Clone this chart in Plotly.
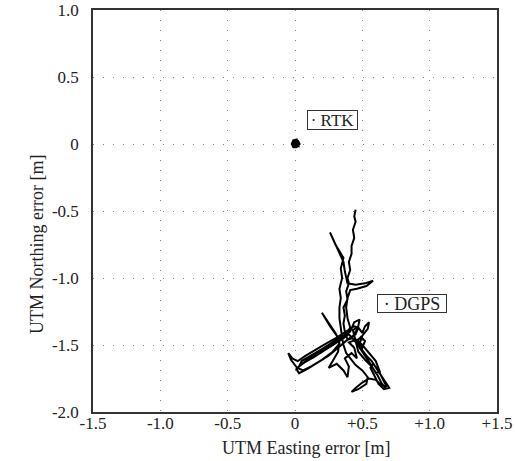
import plotly.graph_objects as go

# DGPS error trajectory (metres)
dgps_east = [
    0.45, 0.44, 0.45, 0.43, 0.44, 0.42, 0.42, 0.40, 0.41, 0.39, 0.40, 0.38, 0.39, 0.36, 0.37, 0.36, 0.37, 0.39,
    0.42, 0.45, 0.47, 0.50, 0.52, 0.55, 0.54, 0.50, 0.48,
    0.50, 0.53, 0.57, 0.61, 0.65, 0.68, 0.70, 0.66, 0.62, 0.59, 0.56, 0.58, 0.62, 0.65, 0.68, 0.64, 0.60, 0.55,
    0.50, 0.45, 0.42, 0.47, 0.53, 0.54, 0.50, 0.45, 0.41, 0.38, 0.36,
    0.35, 0.34, 0.33, 0.33, 0.34, 0.33, 0.35, 0.34, 0.36,
    0.30, 0.26, 0.29, 0.33, 0.36, 0.37,
    0.39, 0.45, 0.52, 0.58, 0.53, 0.46, 0.41,
    0.39, 0.38, 0.39, 0.41, 0.38, 0.33,
    0.26, 0.19, 0.11, 0.04, 0.01, 0.03, 0.09, 0.17, 0.25, 0.32, 0.39, 0.45, 0.47, 0.44, 0.38, 0.30, 0.23, 0.16,
    0.08, 0.02, -0.02, -0.05, -0.03, 0.015, 0.06,
    0.12, 0.20, 0.28, 0.33, 0.31, 0.26, 0.20, 0.24, 0.30, 0.33,
    0.32, 0.28, 0.25, 0.31, 0.36, 0.39, 0.40, 0.37, 0.42, 0.46, 0.44, 0.40,
    0.46, 0.50, 0.55, 0.60, 0.63, 0.60,
    0.56, 0.52, 0.48, 0.46, 0.49, 0.52, 0.50, 0.47, 0.43, 0.40, 0.36, 0.30, 0.22, 0.14, 0.07, 0.03,
    0.05, 0.12, 0.20, 0.28, 0.35, 0.41, 0.44, 0.48, 0.47, 0.43,
    0.47, 0.52, 0.57, 0.61, 0.64, 0.67,
]
dgps_north = [
    -0.49, -0.54, -0.58, -0.64, -0.70, -0.76, -0.82, -0.88, -0.94, -1.00, -1.04, -1.10, -1.16, -1.22, -1.28, -1.34, -1.40, -1.46,
    -1.45, -1.40, -1.37, -1.41, -1.36, -1.33, -1.38, -1.43, -1.49,
    -1.54, -1.58, -1.62, -1.68, -1.74, -1.79, -1.82, -1.83, -1.79, -1.73, -1.67, -1.64, -1.69, -1.75, -1.81, -1.80, -1.76, -1.75,
    -1.78, -1.82, -1.85, -1.83, -1.79, -1.74, -1.69, -1.65, -1.60, -1.56, -1.50,
    -1.45, -1.37, -1.30, -1.22, -1.15, -1.08, -1.00, -0.93, -0.85,
    -0.75, -0.66, -0.73, -0.82, -0.88, -0.95,
    -1.04, -1.05, -1.04, -1.02, -1.06, -1.08, -1.09,
    -1.15, -1.22, -1.30, -1.37, -1.42, -1.46,
    -1.50, -1.55, -1.60, -1.65, -1.68, -1.71, -1.68, -1.63, -1.58, -1.52, -1.46, -1.42, -1.37, -1.36, -1.40, -1.45, -1.49, -1.53,
    -1.58, -1.62, -1.60, -1.56, -1.61, -1.67, -1.69,
    -1.66, -1.61, -1.55, -1.49, -1.43, -1.36, -1.26, -1.32, -1.41, -1.47,
    -1.55, -1.62, -1.67, -1.64, -1.69, -1.74, -1.66, -1.60, -1.56, -1.60, -1.52, -1.48,
    -1.46, -1.50, -1.56, -1.62, -1.70, -1.71,
    -1.64, -1.58, -1.52, -1.47, -1.44, -1.47, -1.52, -1.50, -1.45, -1.42, -1.45, -1.49, -1.54, -1.59, -1.63, -1.66,
    -1.62, -1.58, -1.53, -1.48, -1.44, -1.40, -1.33, -1.31, -1.36, -1.39,
    -1.55, -1.61, -1.66, -1.72, -1.78, -1.82,
]

# RTK error cluster (metres)
rtk_east = [0.00, 0.02, 0.03, 0.01, -0.01, -0.02, -0.01, 0.01, 0.02, 0.00, -0.015, 0.015, 0.025, -0.005]
rtk_north = [0.03, 0.02, 0.00, -0.02, -0.02, 0.00, 0.025, 0.03, -0.01, -0.005, 0.015, 0.01, -0.015, 0.0]

x_ticks = [-1.5, -1.0, -0.5, 0, 0.5, 1.0, 1.5]
x_tick_labels = ["-1.5", "-1.0", "-0.5", "0", "+0.5", "+1.0", "+1.5"]
y_ticks = [1.0, 0.5, 0, -0.5, -1.0, -1.5, -2.0]
y_tick_labels = ["1.0", "0.5", "0", "-0.5", "-1.0", "-1.5", "-2.0"]

FONT = "Liberation Serif"
W, H = 515, 461
ML, MR, MT, MB = 93, 18, 10, 49
pw, ph = W - ML - MR, H - MT - MB

fig = go.Figure()
fig.add_trace(go.Scatter(x=dgps_east, y=dgps_north, mode="lines", name="DGPS",
                         line=dict(color="black", width=2), showlegend=False))
fig.add_trace(go.Scatter(x=rtk_east, y=rtk_north, mode="lines", name="RTK",
                         line=dict(color="black", width=3), showlegend=False))

axis_common = dict(showline=True, mirror=True, linecolor="#333", linewidth=1.5,
                   showgrid=True, gridcolor="#888", gridwidth=1.2, griddash="1px,9px",
                   zeroline=False, ticks="", tickfont=dict(family=FONT, size=17, color="#222"))

fig.update_xaxes(range=[-1.5, 1.5], tickvals=x_ticks, ticktext=x_tick_labels,
                 ticklabelstandoff=-5, **axis_common)
fig.update_yaxes(range=[-2.0, 1.0], tickvals=y_ticks, ticktext=y_tick_labels,
                 ticklabelstandoff=9, **axis_common)

fig.add_annotation(x=0.28, y=0.18, xref="x", yref="y", text="· RTK", showarrow=False,
                   font=dict(family=FONT, size=17, color="#222"), width=47, height=16,
                   bordercolor="#333", borderwidth=1, borderpad=1, bgcolor="white")
fig.add_annotation(x=0.87, y=-1.19, xref="x", yref="y", text="· DGPS", showarrow=False,
                   font=dict(family=FONT, size=18, color="#222"), width=66, height=15,
                   bordercolor="#333", borderwidth=1, borderpad=1, bgcolor="white")

# axis titles placed as annotations (pixel targets converted to paper coordinates)
fig.add_annotation(x=(306 - ML) / pw, y=(H - MB - 448) / ph, xref="paper", yref="paper",
                   text="UTM Easting error [m]", showarrow=False,
                   xanchor="center", yanchor="middle",
                   font=dict(family=FONT, size=18, color="#222"))
fig.add_annotation(x=(37 - ML) / pw, y=(H - MB - 244) / ph, xref="paper", yref="paper",
                   text="UTM Northing error [m]", textangle=-90, showarrow=False,
                   xanchor="center", yanchor="middle",
                   font=dict(family=FONT, size=18, color="#222"))

fig.update_layout(
    width=W, height=H,
    margin=dict(l=ML, r=MR, t=MT, b=MB, autoexpand=False),
    plot_bgcolor="white", paper_bgcolor="white",
)

fig.write_html("out.html", config={"displayModeBar": False},
               post_script="document.body.style.margin='0';document.body.style.overflow='hidden';")
